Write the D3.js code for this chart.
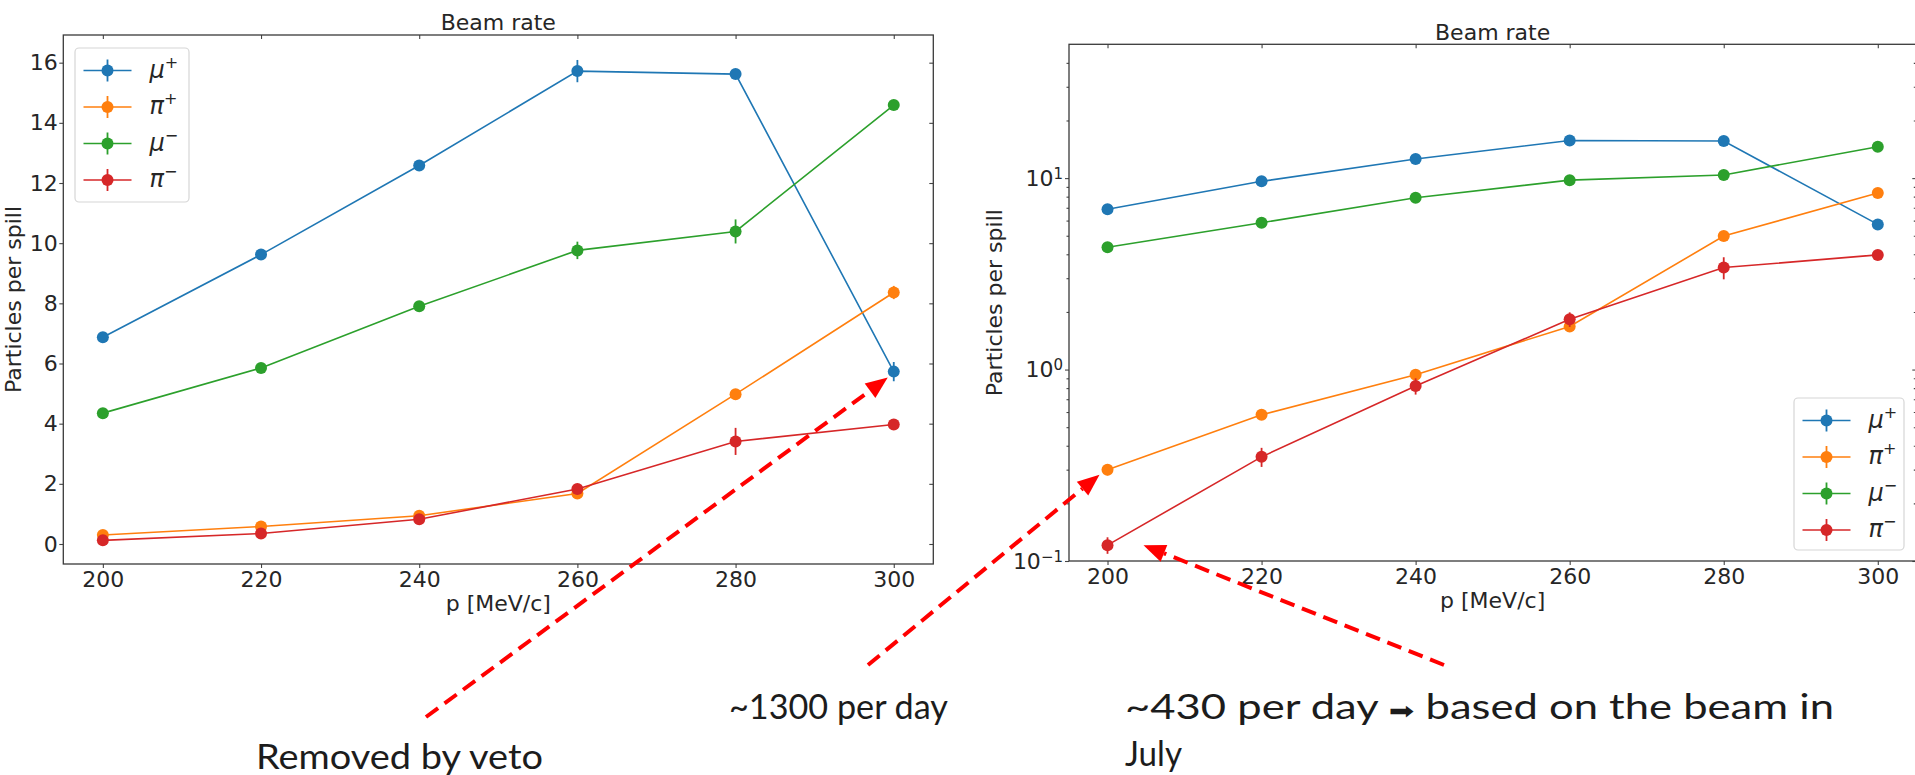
<!DOCTYPE html>
<html>
<head>
<meta charset="utf-8">
<script src="https://cdn.jsdelivr.net/npm/d3@7"></script>
<style>
body { margin: 0; background: #fff; }
text { font-family: "DejaVu Sans", sans-serif; fill: #262626; }
.note { font-family: Lato, "Open Sans", sans-serif; fill: #1c1c1c; }
</style>
</head>
<body>
<div id="plot"></div>
<script>
var momenta = [200, 220, 240, 260, 280, 300];

var muPlus = [6.87, 9.62, 12.58, 15.72, 15.62, 5.73];
var muPlusErr = [0.1, 0.1, 0.12, 0.37, 0.1, 0.32];

var piPlus = [0.3, 0.58, 0.94, 1.68, 4.98, 8.36];
var piPlusErr = [0.02, 0.03, 0.06, 0.08, 0.1, 0.22];

var muMinus = [4.35, 5.85, 7.9, 9.76, 10.39, 14.59];
var muMinusErr = [0.08, 0.1, 0.12, 0.29, 0.4, 0.15];

var piMinus = [0.121, 0.35, 0.82, 1.83, 3.41, 3.97];
var piMinusErr = [0.012, 0.04, 0.08, 0.16, 0.45, 0.1];

var legendSymbols = ["\u03bc", "\u03c0", "\u03bc", "\u03c0"];
var legendCharges = ["+", "+", "\u2212", "\u2212"];

var linTicks = [0, 2, 4, 6, 8, 10, 12, 14, 16];
var logTicks = [0.1, 1, 10];
var logTickPowers = ["\u22121", "0", "1"];

var panelTitle = "Beam rate";
var xTitle = "p [MeV/c]";
var yTitle = "Particles per spill";

var noteTexts = ["Removed by veto", "~1300 per day", "~430 per day ", "\u27a1", " based on the beam in", "July"];

var series = [muPlus, piPlus, muMinus, piMinus];
var seriesErr = [muPlusErr, piPlusErr, muMinusErr, piMinusErr];
var colors = ["#1f77b4", "#ff7f0e", "#2ca02c", "#d62728"];

var width = 1915;
var height = 775;
var fontSize = 22;

var svg = d3
    .select("#plot")
    .append("svg")
    .attr("width", width)
    .attr("height", height);

svg.append("rect").attr("width", width).attr("height", height).attr("fill", "#fff");

// one matplotlib-ish panel
function drawPanel(cfg) {
    var g = svg.append("g");
    var x = d3.scaleLinear().domain([195, 305]).range([cfg.left, cfg.right]);
    var y = cfg.y;

    // bottom + left axes, ticks pointing out
    g.append("g")
        .attr("transform", "translate(0," + cfg.bottom + ")")
        .call(d3.axisBottom(x).tickValues(momenta).tickSize(4).tickPadding(3.5).tickSizeOuter(0));

    var leftAxis = g.append("g")
        .attr("transform", "translate(" + cfg.left + ",0)")
        .call(d3.axisLeft(y).tickValues(cfg.yTicks).tickSize(4).tickPadding(cfg.labelPad).tickSizeOuter(0)
            .tickFormat(cfg.log ? function() { return ""; } : d3.format("d")));

    // top + right get inward ticks, no labels
    g.append("g")
        .attr("transform", "translate(0," + cfg.top + ")")
        .call(d3.axisTop(x).tickValues(momenta).tickSize(-4).tickFormat("").tickSizeOuter(0));
    g.append("g")
        .attr("transform", "translate(" + cfg.right + ",0)")
        .call(d3.axisRight(y).tickValues(cfg.yTicks).tickSize(-4).tickFormat("").tickSizeOuter(0));

    if (cfg.log) {
        var minors = [];
        [0.1, 1, 10].forEach(function(dec) {
            for (var k = 2; k <= 9; k++) {
                var v = dec * k;
                if (v < 50) minors.push(v);
            }
        });
        g.append("g")
            .attr("transform", "translate(" + cfg.left + ",0)")
            .call(d3.axisLeft(y).tickValues(minors).tickSize(2.5).tickFormat("").tickSizeOuter(0));
        g.append("g")
            .attr("transform", "translate(" + cfg.right + ",0)")
            .call(d3.axisRight(y).tickValues(minors).tickSize(-2.5).tickFormat("").tickSizeOuter(0));

        // 10^n labels
        leftAxis.selectAll(".tick text").each(function(d, i) {
            var t = d3.select(this);
            t.append("tspan").text("10");
            t.append("tspan").attr("dy", "-0.45em").attr("font-size", 15).text(logTickPowers[i]);
        });
    }

    g.selectAll(".domain").remove();
    g.selectAll(".tick line").attr("stroke", "#444").attr("stroke-width", 1.1);
    g.selectAll(".tick text").attr("font-size", fontSize).attr("fill", "#262626")
        .attr("font-family", "DejaVu Sans, sans-serif");

    // frame
    g.append("rect")
        .attr("x", cfg.left)
        .attr("y", cfg.top)
        .attr("width", cfg.right - cfg.left)
        .attr("height", cfg.bottom - cfg.top)
        .attr("fill", "none")
        .attr("stroke", "#3a3a3a")
        .attr("stroke-width", 1.3);

    // data
    var line = d3.line()
        .x(function(d, i) { return x(momenta[i]); })
        .y(function(d) { return y(d); });

    series.forEach(function(vals, s) {
        var col = colors[s];
        g.append("path")
            .attr("d", line(vals))
            .attr("fill", "none")
            .attr("stroke", col)
            .attr("stroke-width", 1.6);

        g.selectAll(null).data(vals).enter()
            .append("line")
            .attr("x1", function(d, i) { return x(momenta[i]); })
            .attr("x2", function(d, i) { return x(momenta[i]); })
            .attr("y1", function(d, i) { return y(d + seriesErr[s][i]); })
            .attr("y2", function(d, i) { return y(Math.max(d - seriesErr[s][i], 1e-3)); })
            .attr("stroke", col)
            .attr("stroke-width", 1.8);

        g.selectAll(null).data(vals).enter()
            .append("circle")
            .attr("cx", function(d, i) { return x(momenta[i]); })
            .attr("cy", function(d) { return y(d); })
            .attr("r", 6)
            .attr("fill", col);
    });

    // titles
    var mid = (cfg.left + cfg.right) / 2;
    g.append("text").attr("x", mid).attr("y", cfg.titleY)
        .attr("text-anchor", "middle").attr("font-size", fontSize).text(panelTitle);
    g.append("text").attr("x", mid).attr("y", cfg.xTitleY)
        .attr("text-anchor", "middle").attr("font-size", fontSize).text(xTitle);
    g.append("text")
        .attr("transform", "translate(" + cfg.yTitleX + "," + ((cfg.top + cfg.bottom) / 2) + ") rotate(-90)")
        .attr("text-anchor", "middle").attr("font-size", fontSize).text(yTitle);

    // legend
    var lg = g.append("g");
    lg.append("rect")
        .attr("x", cfg.legend.x)
        .attr("y", cfg.legend.y)
        .attr("width", cfg.legend.w)
        .attr("height", cfg.legend.h)
        .attr("rx", 4)
        .attr("fill", "#fff")
        .attr("fill-opacity", 0.85)
        .attr("stroke", "#d6d6d6")
        .attr("stroke-width", 1.2);

    colors.forEach(function(col, s) {
        var ry = cfg.legend.y + 22.5 + s * 36.5;
        var lx = cfg.legend.x + 8.5;
        lg.append("line").attr("x1", lx).attr("x2", lx + 48).attr("y1", ry).attr("y2", ry)
            .attr("stroke", col).attr("stroke-width", 1.6);
        lg.append("line").attr("x1", lx + 24).attr("x2", lx + 24).attr("y1", ry - 11).attr("y2", ry + 11)
            .attr("stroke", col).attr("stroke-width", 1.8);
        lg.append("circle").attr("cx", lx + 24).attr("cy", ry).attr("r", 6).attr("fill", col);

        var lab = lg.append("text").attr("x", lx + 66).attr("y", ry + 7).attr("font-size", 24);
        lab.append("tspan").attr("font-style", "italic").text(legendSymbols[s]);
        lab.append("tspan").attr("dy", -10).attr("font-size", 16).text(legendCharges[s]);
    });

    return { x: x, y: y };
}

// left: linear
var linPanel = drawPanel({
    left: 63.3, right: 933.3, top: 35, bottom: 564,
    y: d3.scaleLinear().domain([-0.665, 16.92]).range([564, 35]),
    yTicks: linTicks, log: false, labelPad: 1.5,
    titleY: 30, xTitleY: 611, yTitleX: 21,
    legend: { x: 75, y: 48, w: 114, h: 154 }
});

// right: log
var logPanel = drawPanel({
    left: 1069, right: 1916.3, top: 44.3, bottom: 561,
    y: d3.scaleLog().domain([0.1, 50]).range([561, 44.3]),
    yTicks: logTicks, log: true, labelPad: 2,
    titleY: 40, xTitleY: 608, yTitleX: 1002,
    legend: { x: 1794, y: 398, w: 110, h: 152 }
});

// red dashed call-out arrows
function arrow(x1, y1, x2, y2) {
    var dx = x2 - x1, dy = y2 - y1;
    var len = Math.sqrt(dx * dx + dy * dy);
    var ux = dx / len, uy = dy / len;
    var headL = 22, headW = 9;
    var bx = x2 - ux * headL, by = y2 - uy * headL;
    svg.append("line")
        .attr("x1", x1).attr("y1", y1).attr("x2", bx).attr("y2", by)
        .attr("stroke", "#ff0000")
        .attr("stroke-width", 4)
        .attr("stroke-dasharray", "15,8");
    svg.append("polygon")
        .attr("points", [
            [x2, y2],
            [bx - uy * headW, by + ux * headW],
            [bx + uy * headW, by - ux * headW]
        ].map(function(p) { return p.join(","); }).join(" "))
        .attr("fill", "#ff0000");
}

var lx = linPanel.x, ly = linPanel.y, gx = logPanel.x, gy = logPanel.y;
arrow(426, 717, lx(300) - 6, ly(muPlus[5]) + 6);
arrow(868, 665, gx(200) - 8, gy(piPlus[0]) + 5);
arrow(1444, 665, gx(200) + 36, gy(piMinus[0]));

// slide notes: the slide font is taller and narrower than Lato,
// so each line is fitted to the width it has on the slide
var noteSize = 34;

function note(xp, yp, span) {
    return svg.append("text")
        .attr("class", "note")
        .attr("x", xp)
        .attr("y", yp)
        .attr("font-size", noteSize)
        .attr("textLength", span)
        .attr("lengthAdjust", "spacingAndGlyphs");
}

note(256, 769, 287).text(noteTexts[0]);
note(729, 719, 219).text(noteTexts[1]);
var longLine = note(1125, 719, 709);
longLine.append("tspan").text(noteTexts[2]);
longLine.append("tspan").attr("font-size", noteSize * 0.7).attr("font-family", "DejaVu Sans").text(noteTexts[3]);
longLine.append("tspan").text(noteTexts[4]);
note(1125, 766, 57).text(noteTexts[5]);
</script>
</body>
</html>
